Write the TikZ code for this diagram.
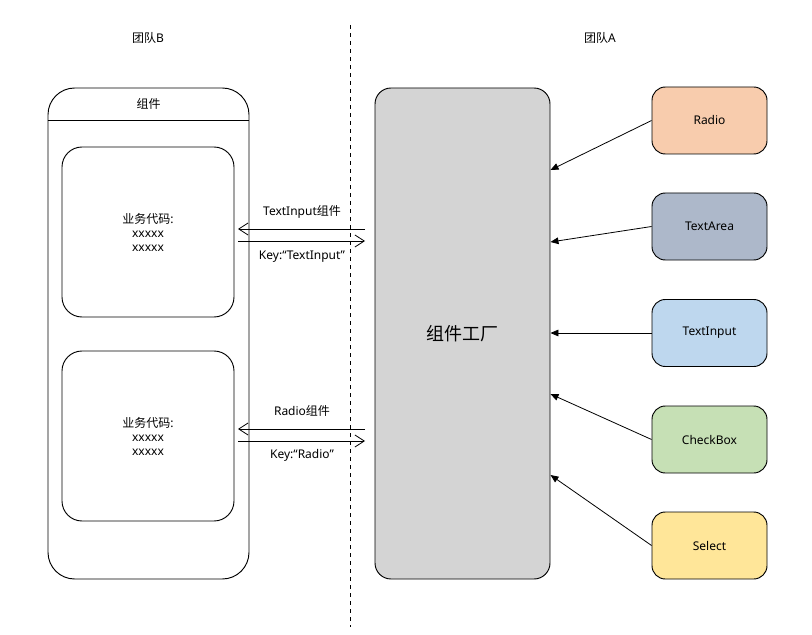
\documentclass[tikz,border=0pt]{standalone}
\usepackage{fontspec}
\setmainfont{Noto Sans}
\newfontfamily\cjk{Noto Sans CJK SC}
\usetikzlibrary{arrows.meta}

\begin{document}
\begin{tikzpicture}[x=0.75pt,y=-0.75pt,line width=0.7pt,font=\fontsize{9}{10.5}\selectfont]

        \useasboundingbox (0,0) rectangle (812,634);

        % titles and the dashed split
        \node (tb) at (148,38) {{\cjk 团队}B};
        \node (ta) at (600,38) {{\cjk 团队}A};
        \coordinate (d1) at (350,25);
        \coordinate (d2) at (350,627);
        \draw[dashed] (d1) -- (d2);

        % team B
        \node[draw, rounded corners=20, minimum width=150.75pt, minimum height=368.25pt] (b) at (148.5,333.5) {};
        \node (bt) at (148.5,104) {\cjk 组件};
        \draw (b.west |- 0,120) -- (b.east |- 0,120);

        \begin{scope}[every node/.style={draw, rounded corners=15, minimum width=129pt, minimum height=127.5pt, align=center}]
          \node (c1) at (148,232) {{\cjk 业务代码}:\\xxxxx\\xxxxx};
          \node (c2) at (148,436) {{\cjk 业务代码}:\\xxxxx\\xxxxx};
        \end{scope}

        % factory
        \node[draw, fill=black!17, rounded corners=12, minimum width=131.25pt, minimum height=368.25pt, font=\cjk\fontsize{13.5}{15}\selectfont] (f) at (462.5,333.5) {组件工厂};

        % team A
        \begin{scope}[every node/.style={draw, rounded corners=10, minimum width=86.25pt, minimum height=50.25pt}]
          \node[fill={rgb,255:red,248;green,204;blue,173}] (1) at (709.5,120.5) {Radio};
          \node[fill={rgb,255:red,173;green,184;blue,202}] (2) at (709.5,226.5) {TextArea};
          \node[fill={rgb,255:red,190;green,215;blue,238}] (3) at (709.5,333)   {TextInput};
          \node[fill={rgb,255:red,198;green,224;blue,181}] (4) at (709.5,439.5) {CheckBox};
          \node[fill={rgb,255:red,255;green,230;blue,153}] (5) at (709.5,545.5) {Select};
        \end{scope}

        \begin{scope}[line width=0.6pt, -{Triangle[length=6pt,width=5pt]}]
          \draw (1.west) -- (f.east |- 0,170);
          \draw (2.west) -- (f.east |- 0,242);
          \draw (3.west) -- (f.east |- 0,333);
          \draw (4.west) -- (f.east |- 0,394);
          \draw (5.west) -- (f.east |- 0,475);
        \end{scope}

        % keys and components between the teams
        \coordinate (p1) at (365,229);
        \coordinate (q1) at (238,229);
        \coordinate (p2) at (238,241);
        \coordinate (q2) at (365,241);
        \coordinate (p3) at (365,429);
        \coordinate (q3) at (238,429);
        \coordinate (p4) at (238,441);
        \coordinate (q4) at (365,441);

        \begin{scope}[line width=0.6pt, -{Straight Barb[length=7pt,width=9pt]}]
          \draw (p1) -- (q1);
          \draw (p2) -- (q2);
          \draw (p3) -- (q3);
          \draw (p4) -- (q4);
        \end{scope}

        \node (l1) at (302,212) {TextInput{\cjk 组件}};
        \node (l2) at (302,257) {Key:“TextInput”};
        \node (l3) at (302,411) {Radio{\cjk 组件}};
        \node (l4) at (302,455) {Key:“Radio”};

      \end{tikzpicture}
\end{document}
